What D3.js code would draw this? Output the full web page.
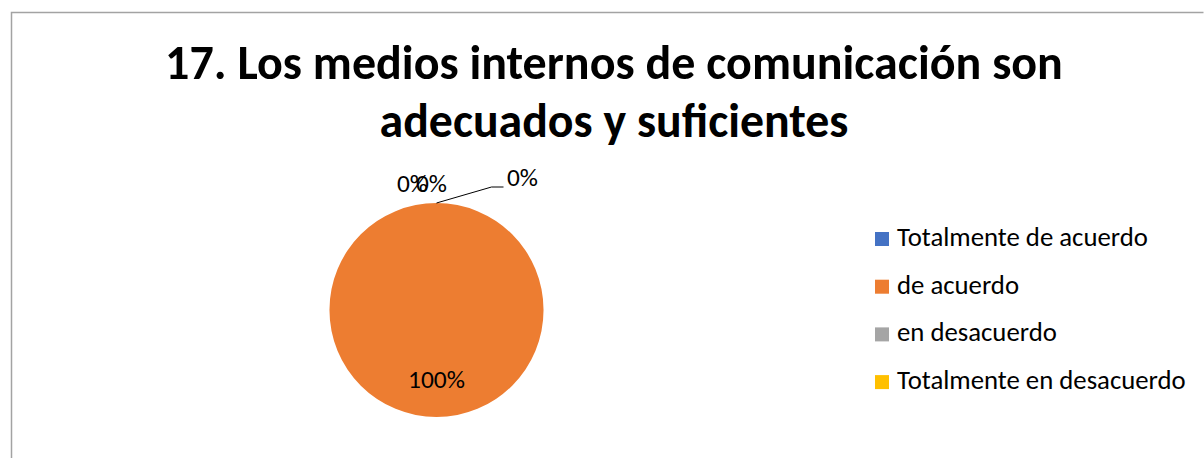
<!DOCTYPE html>
<html>
<head>
<meta charset="utf-8">
<script src="https://cdn.jsdelivr.net/npm/d3@7"></script>
<style>
  html, body { margin: 0; padding: 0; background: #fff; }
  svg { display: block; font-family: Calibri, Carlito, Lato, sans-serif; }
</style>
</head>
<body>
<div id="chart"></div>
<script>
const titleLines = ['17. Los medios internos de comunicación son', 'adecuados y suficientes'];
const categories = ['Totalmente de acuerdo', 'de acuerdo', 'en desacuerdo', 'Totalmente en desacuerdo'];
const values = [0, 100, 0, 0];
const colors = ['#4472C4', '#ED7D31', '#A5A5A5', '#FFC000'];

const width = 1204, height = 458;
const cx = 436.5, cy = 310, radius = 107;

const svg = d3.select('#chart').append('svg')
  .attr('width', width)
  .attr('height', height);

// chart area border (bottom/right cut off like the reference)
svg.append('path')
  .attr('d', 'M11.5,' + (height + 2) + 'V12.5H1203.5')
  .attr('fill', 'none')
  .attr('stroke', '#a3a3a3')
  .attr('stroke-width', 1.5);

// fit a text element to a given width by tweaking font size
function fitText(sel, target) {
  const size = parseFloat(sel.attr('font-size'));
  const w = sel.node().getComputedTextLength();
  sel.attr('font-size', size * target / w);
}

const title = svg.append('g');
const titleWidths = [898, 469];
const titleBase = [79, 137];
titleLines.forEach((t, i) => {
  const txt = title.append('text')
    .attr('x', 614)
    .attr('y', titleBase[i])
    .attr('text-anchor', 'middle')
    .attr('font-weight', 'bold')
    .attr('font-size', 44)
    .attr('fill', '#000')
    .text(t);
  fitText(txt, titleWidths[i]);
});

const total = d3.sum(values);
const pie = d3.pie().sort(null).value(d => d.value);
const data = categories.map((c, i) => ({ name: c, value: values[i], color: colors[i] }));
const arcs = pie(data);
const arc = d3.arc().innerRadius(0).outerRadius(radius);

const g = svg.append('g').attr('transform', `translate(${cx},${cy})`);

g.selectAll('path.slice')
  .data(arcs.filter(d => d.value > 0))
  .enter().append('path')
  .attr('class', 'slice')
  .attr('d', arc)
  .attr('fill', d => d.data.color);

const pct = d => Math.round(d.value / total * 100) + '%';

// label for the big slice, inside near the outer edge at its mid angle
arcs.filter(d => d.value > 0).forEach(d => {
  const a = (d.startAngle + d.endAngle) / 2;
  const r = radius * 0.65;
  const t = g.append('text')
    .attr('x', r * Math.sin(a))
    .attr('y', -r * Math.cos(a) + 8)
    .attr('text-anchor', 'middle')
    .attr('font-size', 22)
    .attr('fill', '#000')
    .text(pct(d));
  fitText(t, 57);
});

// zero slices all sit on the top edge; Excel nudges them apart
const zeroOffsets = [[-24, -118], [-5, -118], [86, -124]];
const zeros = arcs.filter(d => d.value === 0);
zeros.forEach((d, i) => {
  const px = radius * Math.sin(d.startAngle);
  const py = -radius * Math.cos(d.startAngle);
  const [ox, oy] = zeroOffsets[i];
  if (i === 2) {
    g.append('polyline')
      .attr('points', [[px, py], [55, py - 16], [67, py - 16]].map(p => p.join(',')).join(' '))
      .attr('fill', 'none')
      .attr('stroke', '#000')
      .attr('stroke-width', 1);
  }
  const t = g.append('text')
    .attr('x', ox)
    .attr('y', oy)
    .attr('text-anchor', 'middle')
    .attr('font-size', 22)
    .attr('fill', '#000')
    .text(pct(d));
  fitText(t, 31);
});

// legend
const legend = svg.append('g').attr('transform', 'translate(875,232)');
const rowStep = 47.7;
data.forEach((d, i) => {
  const row = legend.append('g').attr('transform', `translate(0,${i * rowStep})`);
  row.append('rect')
    .attr('width', 14)
    .attr('height', 14)
    .attr('fill', d.color);
  row.append('text')
    .attr('x', 22)
    .attr('y', 14)
    .attr('font-size', 22)
    .attr('fill', '#000')
    .text(d.name);
});
// scale all legend labels so the first one spans the reference width
const legendScale = 251 / legend.select('text').node().getComputedTextLength();
legend.selectAll('text').attr('font-size', 22 * legendScale);
</script>
</body>
</html>
